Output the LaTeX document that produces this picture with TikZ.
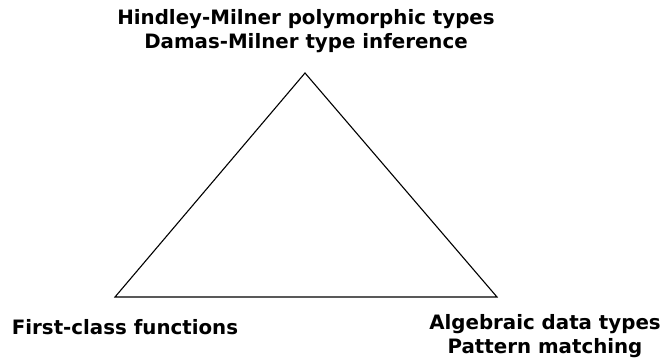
\documentclass[tikz,border=0pt]{standalone}
\usepackage{fontspec}
\setmainfont{DejaVu Sans}
\begin{document}
\begin{tikzpicture}[x=1pt,y=-1pt,
  lbl/.style={font=\bfseries\fontsize{19.8}{24}\selectfont, align=center, inner sep=0pt},
  edge/.style={draw=black, line width=1.1pt}]
\useasboundingbox (0,0) rectangle (663,358);
\coordinate (top) at (305,73);
\coordinate (left) at (115,297);
\coordinate (right) at (497,297);
\draw[edge, line join=miter] (top) -- (left) -- (right) -- cycle;
\node[lbl] (tl) at (306,31) {Hindley-Milner polymorphic types\\Damas-Milner type inference};
\node[lbl] (ll) at (125,327) {First-class functions};
\node[lbl] (rl) at (545,336) {Algebraic data types\\Pattern matching};
\end{tikzpicture}
\end{document}
